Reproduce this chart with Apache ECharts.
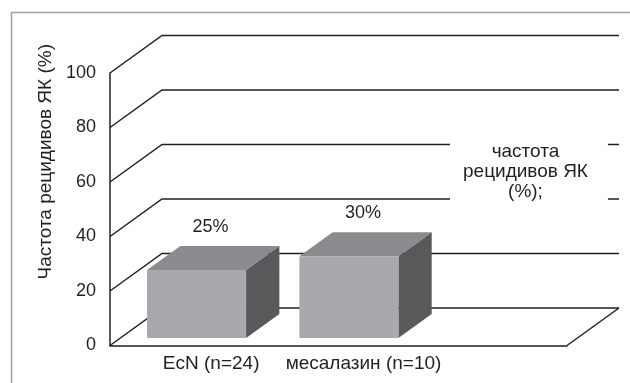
<!DOCTYPE html>
<html>
<head>
<meta charset="utf-8">
<script src="https://cdn.jsdelivr.net/npm/echarts@6/dist/echarts.min.js"></script>
<style>
  html, body { margin: 0; padding: 0; background: #fff; }
  #chart { width: 630px; height: 383px; }
</style>
</head>
<body>
<div id="chart"></div>
<script>
// Relapse rate of ulcerative colitis by treatment group
const categories = ['EcN (n=24)', 'месалазин (n=10)', ''];
const relapseRate = [25, 30];
const yTicks = [0, 20, 40, 60, 80, 100];
const seriesName = 'частота рецидивов ЯК (%);';
const axisTitle = 'Частота рецидивов ЯК (%)';

// depth of the pseudo-3D box (screen offset of the back wall)
const DX = 52, DY = 37.5;
// bar depth range as fractions of the box depth
const F_FRONT = 0.2, F_BACK = 0.84;
const INK = '#231f20';
const FONT = 'Liberation Sans, Arial, sans-serif';

const chart = echarts.init(document.getElementById('chart'), null, { renderer: 'canvas' });

function renderFrame(params, api) {
  const cs = params.coordSys;
  const v = api.value(0);
  const y = api.coord([0, v])[1];
  const x0 = cs.x, x1 = cs.x + cs.width;
  const children = [{
    type: 'polyline',
    shape: { points: [[x0, y], [x0 + DX, y - DY], [x1 + DX, y - DY]] },
    style: { stroke: INK, lineWidth: 1.5, fill: null }
  }];
  if (v === 0) {
    children.push({
      type: 'line',
      shape: { x1: x1, y1: y, x2: x1 + DX, y2: y - DY },
      style: { stroke: INK, lineWidth: 1.5 }
    });
  }
  return { type: 'group', children };
}

function renderBar(params, api) {
  const idx = api.value(0);
  const val = api.value(1);
  const base = api.coord([idx, 0]);
  const top = api.coord([idx, val]);
  const w = api.size([1, 0])[0] * 0.65;
  const cx = base[0] + F_FRONT * DX;
  const l = cx - w / 2, r = cx + w / 2;
  const yb = base[1] - F_FRONT * DY;
  const yt = top[1] - F_FRONT * DY;
  const dx = (F_BACK - F_FRONT) * DX, dy = (F_BACK - F_FRONT) * DY;
  return {
    type: 'group',
    children: [
      { type: 'polygon', shape: { points: [[r, yt], [r + dx, yt - dy], [r + dx, yb - dy], [r, yb]] },
        style: { fill: '#58595b' } },
      { type: 'polygon', shape: { points: [[l, yt], [r, yt], [r + dx, yt - dy], [l + dx, yt - dy]] },
        style: { fill: '#8a8b8e' } },
      { type: 'rect', shape: { x: l, y: yt, width: w, height: yb - yt },
        style: { fill: '#a7a9ac' } },
      { type: 'text', x: cx + 14, y: yt - dy - 19,
        style: { text: val + '%', fill: INK, font: '18px ' + FONT, align: 'center', verticalAlign: 'middle' } }
    ]
  };
}

chart.setOption({
  animation: false,
  backgroundColor: '#fff',
  graphic: [{
    type: 'rect', left: 9, top: 10, z: -10,
    shape: { width: 660, height: 420 },
    style: { fill: null, stroke: '#a3a3a3', lineWidth: 1.5 }
  }],
  legend: {
    data: [seriesName],
    left: 450, top: 138,
    itemWidth: 0, itemHeight: 0, itemGap: 0,
    padding: [4, 20, 5, 8],
    backgroundColor: '#fff',
    selectedMode: false,
    formatter: () => '{c|частота}\n{c|рецидивов ЯК}\n{c|(%);}',
    textStyle: {
      color: INK, fontFamily: FONT, fontSize: 19, lineHeight: 20,
      rich: { c: { align: 'center', fontSize: 19, lineHeight: 20, fontFamily: FONT, color: INK } }
    }
  },
  grid: { left: 110, right: 63, top: 73, bottom: 37.5 },
  xAxis: {
    type: 'category',
    data: categories,
    axisLine: { lineStyle: { color: INK, width: 1.5 } },
    axisTick: { show: false },
    axisLabel: {
      interval: 0, hideOverlap: false,
      color: INK, fontFamily: FONT, fontSize: 19, margin: 9, padding: [0, 0, 0, 50]
    }
  },
  yAxis: {
    type: 'value',
    min: 0, max: 100, interval: 20,
    name: axisTitle,
    nameLocation: 'middle',
    nameGap: 53,
    nameTextStyle: { color: INK, fontFamily: FONT, fontSize: 19, padding: [0, 0, 0, 95] },
    axisLine: { show: true, lineStyle: { color: INK, width: 1.5 } },
    axisTick: { show: false },
    splitLine: { show: false },
    axisLabel: { color: INK, fontFamily: FONT, fontSize: 18, margin: 14 }
  },
  series: [
    {
      type: 'custom',
      name: 'frame',
      renderItem: renderFrame,
      data: yTicks.map(v => [v]),
      encode: { y: 0 },
      silent: true,
      z: 1
    },
    {
      type: 'custom',
      name: seriesName,
      renderItem: renderBar,
      data: relapseRate.map((v, i) => [i, v]),
      encode: { x: 0, y: 1 },
      z: 3
    }
  ]
});
</script>
</body>
</html>
